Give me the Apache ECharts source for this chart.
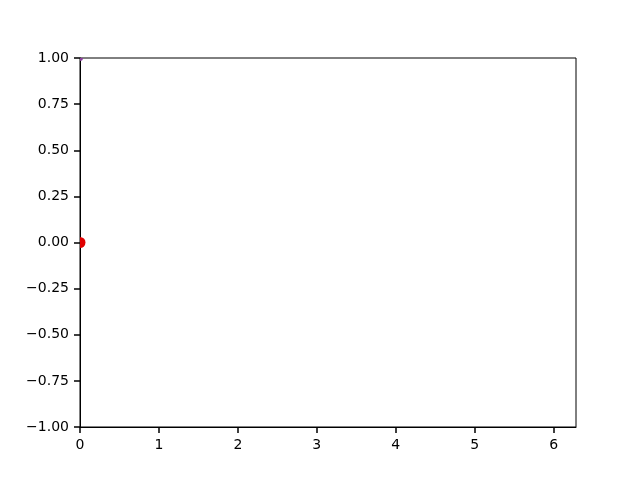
<!DOCTYPE html>
<html>
<head>
<meta charset="utf-8">
<script src="https://cdn.jsdelivr.net/npm/echarts@6/dist/echarts.min.js"></script>
<style>html,body{margin:0;padding:0;background:#fff}#c{width:640px;height:480px}</style>
</head>
<body>
<div id="c"></div>
<script>
const xMin = 0, xMax = 2 * Math.PI;
const yMin = -1, yMax = 1;
const redX = [0];
const redY = [0];
const purpleX = [0];
const purpleY = [1];

const chart = echarts.init(document.getElementById('c'), null, {renderer: 'canvas'});
function dotSeries(xs, ys, r, color) {
  return {
    type: 'custom', clip: true,
    data: xs.map((x, i) => [x, ys[i]]),
    renderItem: (params, api) => {
      const p = api.coord([api.value(0), api.value(1)]);
      return {type: 'circle', shape: {cx: p[0], cy: p[1], r: r}, style: {fill: color}};
    }
  };
}
const tickStyle = {show: true, inside: false, length: 6, lineStyle: {color: '#000', width: 1.5}};
chart.setOption({
  animation: false,
  grid: {left: 80, right: 64, top: 58, bottom: 53, show: true, borderColor: '#000', borderWidth: 1, backgroundColor: 'transparent'},
  xAxis: {
    type: 'value', min: xMin, max: xMax, interval: 1,
    axisLine: {show: true, onZero: false, lineStyle: {color: '#000', width: 1}},
    axisTick: tickStyle,
    splitLine: {show: false},
    axisLabel: {color: '#000', fontSize: 14, fontFamily: 'DejaVu Sans', margin: 11, showMaxLabel: false,
      formatter: v => (Math.abs(v - Math.round(v)) < 1e-9 ? String(Math.round(v)) : '')}
  },
  yAxis: {
    type: 'value', min: yMin, max: yMax, interval: 0.25,
    axisLine: {show: true, onZero: false, lineStyle: {color: '#000', width: 1}},
    axisTick: tickStyle,
    splitLine: {show: false},
    axisLabel: {color: '#000', fontSize: 14, fontFamily: 'DejaVu Sans', margin: 11,
      formatter: v => v.toFixed(2).replace('-', '\u2212')}
  },
  series: [
    dotSeries(redX, redY, 5.5, '#e00000'),
    dotSeries(purpleX, purpleY, 3, '#8a3f9a')
  ]
});
</script>
</body>
</html>
